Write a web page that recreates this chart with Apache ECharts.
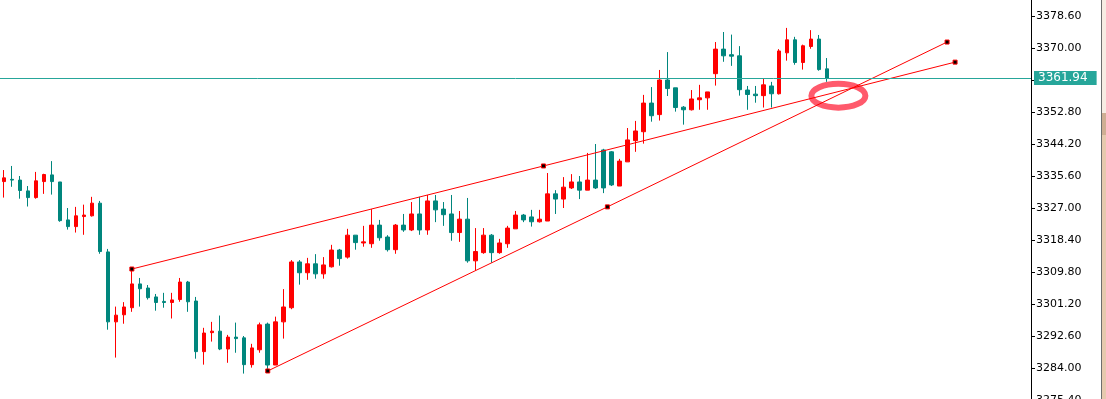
<!DOCTYPE html>
<html>
<head>
<meta charset="utf-8">
<script src="https://cdn.jsdelivr.net/npm/echarts@6/dist/echarts.min.js"></script>
<style>
  html, body { margin: 0; padding: 0; background: #fff; }
  #chart { width: 1106px; height: 399px; }
</style>
</head>
<body>
<div id="chart"></div>
<script>
// candles: [open, close, low, high]
const candles = [
  [3334.1, 3335.1, 3329.8, 3337.2], [3334.7, 3334.5, 3332.7, 3338.3], [3334.5, 3331.7, 3329.5, 3335.6],
  [3331.6, 3329.8, 3327.4, 3332.9], [3329.8, 3334.3, 3329.5, 3336.7], [3334.1, 3336.0, 3330.8, 3336.2],
  [3335.9, 3334.1, 3330.6, 3339.6], [3334.0, 3323.6, 3323.3, 3334.0], [3323.8, 3322.0, 3321.2, 3327.0],
  [3322.0, 3324.9, 3320.4, 3327.3], [3324.7, 3325.1, 3319.8, 3327.9], [3324.9, 3328.3, 3324.7, 3330.0],
  [3328.3, 3315.3, 3314.7, 3328.9], [3315.2, 3296.4, 3294.3, 3316.0], [3296.4, 3298.2, 3286.8, 3300.5],
  [3298.3, 3300.4, 3295.9, 3301.7], [3300.2, 3306.6, 3299.1, 3310.6], [3306.6, 3305.3, 3300.5, 3308.2],
  [3305.5, 3302.9, 3302.4, 3306.3], [3303.1, 3301.6, 3299.4, 3303.9], [3301.9, 3301.6, 3300.2, 3304.2],
  [3301.6, 3302.3, 3297.3, 3304.2], [3302.4, 3307.1, 3301.8, 3308.2], [3307.1, 3301.8, 3299.1, 3307.4],
  [3302.0, 3288.4, 3286.5, 3303.1], [3288.4, 3293.4, 3284.9, 3294.8], [3293.5, 3293.9, 3291.1, 3296.4],
  [3293.9, 3289.1, 3288.8, 3298.1], [3289.1, 3292.3, 3285.4, 3292.9], [3292.3, 3291.9, 3288.1, 3296.2],
  [3292.1, 3284.9, 3282.5, 3292.6], [3284.9, 3289.4, 3284.1, 3290.5], [3288.9, 3295.6, 3288.1, 3296.2],
  [3295.8, 3284.8, 3283.2, 3296.2], [3284.8, 3296.4, 3284.8, 3297.8], [3296.4, 3300.4, 3291.9, 3305.2],
  [3300.2, 3312.5, 3299.8, 3313.0], [3312.5, 3309.6, 3306.4, 3313.0], [3309.6, 3312.0, 3307.7, 3313.6],
  [3312.0, 3309.3, 3308.0, 3314.6], [3309.3, 3311.7, 3308.0, 3313.8], [3311.2, 3315.7, 3311.0, 3317.1],
  [3315.7, 3313.4, 3311.5, 3316.0], [3313.8, 3319.7, 3313.4, 3321.4], [3319.7, 3317.7, 3315.8, 3319.7],
  [3317.6, 3317.9, 3316.6, 3322.2], [3317.4, 3322.4, 3316.3, 3326.7], [3322.4, 3319.0, 3318.2, 3323.8],
  [3319.2, 3315.8, 3315.3, 3319.7], [3315.8, 3322.4, 3314.7, 3322.7], [3322.4, 3321.1, 3320.6, 3325.4],
  [3321.1, 3325.4, 3320.8, 3328.6], [3325.4, 3321.1, 3319.8, 3330.0], [3321.1, 3328.9, 3319.8, 3330.5],
  [3328.9, 3326.5, 3323.2, 3330.5], [3326.7, 3325.2, 3322.2, 3328.6], [3325.4, 3320.4, 3318.2, 3330.5],
  [3320.4, 3324.0, 3317.9, 3326.2], [3324.0, 3312.8, 3312.3, 3329.7], [3312.8, 3315.3, 3310.2, 3321.6],
  [3315.0, 3319.7, 3314.7, 3321.6], [3319.7, 3315.0, 3312.3, 3320.0], [3315.0, 3317.6, 3314.7, 3318.7],
  [3317.4, 3321.6, 3316.3, 3322.2], [3321.4, 3325.1, 3321.4, 3326.2], [3325.1, 3323.8, 3323.2, 3325.4],
  [3324.6, 3323.3, 3322.0, 3326.5], [3323.3, 3324.0, 3323.1, 3326.5], [3323.5, 3330.8, 3323.5, 3336.4],
  [3330.8, 3329.4, 3325.4, 3331.8], [3329.4, 3332.6, 3327.0, 3335.3], [3332.4, 3334.0, 3332.1, 3336.1],
  [3334.0, 3331.8, 3329.4, 3335.6], [3331.8, 3334.5, 3331.8, 3341.8], [3334.5, 3332.4, 3332.1, 3344.2],
  [3342.6, 3332.4, 3331.0, 3342.9], [3342.1, 3333.2, 3332.9, 3342.3], [3332.9, 3339.6, 3332.9, 3340.2],
  [3339.4, 3345.3, 3339.4, 3348.5], [3345.1, 3347.7, 3342.1, 3350.4], [3347.5, 3355.2, 3344.3, 3357.4],
  [3355.2, 3351.8, 3350.2, 3359.5], [3352.1, 3361.4, 3350.5, 3364.1], [3361.4, 3359.1, 3357.1, 3368.9],
  [3359.3, 3354.0, 3352.9, 3359.3], [3354.1, 3353.4, 3349.4, 3354.4], [3353.4, 3356.3, 3353.2, 3358.7],
  [3356.1, 3356.6, 3353.4, 3360.1], [3356.6, 3358.2, 3353.4, 3358.2], [3363.1, 3369.7, 3359.9, 3371.6],
  [3369.7, 3367.9, 3366.3, 3374.3], [3368.2, 3367.8, 3365.2, 3373.6], [3367.9, 3358.8, 3357.2, 3370.5],
  [3358.7, 3357.5, 3353.4, 3359.8], [3357.6, 3357.2, 3355.3, 3359.8], [3357.2, 3360.1, 3354.0, 3361.9],
  [3359.8, 3357.7, 3354.0, 3360.9], [3357.7, 3369.2, 3357.5, 3369.7], [3368.7, 3372.2, 3366.6, 3375.4],
  [3372.2, 3366.1, 3365.5, 3373.0], [3366.1, 3370.6, 3364.2, 3370.9], [3370.4, 3372.4, 3369.8, 3374.8],
  [3372.4, 3364.2, 3363.9, 3373.5], [3364.4, 3361.94, 3360.9, 3367.3]
]

const slotCount = 129 // bars that fit in the window (incl. empty right margin)
const categories = Array.from({ length: slotCount }, (_, i) => String(i))

// trend lines: [barIndex, price] (start, middle handle, end)
const upperTrend = [[16, 3310.6], [67.5, 3338.3], [119, 3366.2]]
const lowerTrend = [[33, 3283.2], [75.5, 3327.3], [118, 3371.6]]
const lastPrice = 3361.94
const highlight = [[104.4, 3357.2]]

const yMin = 3275.4
const yMax = 3382.9
const yStep = 8.6

const UP = '#ff0000'
const DOWN = '#00867d'
const PRICE = '#26a69a'

const chart = echarts.init(document.getElementById('chart'))

const trendSeries = (data) => ({
  type: 'line',
  xAxisIndex: 1,
  data: data,
  symbol: 'rect',
  symbolSize: 4,
  showAllSymbol: true,
  itemStyle: { color: '#000', borderColor: UP, borderWidth: 1 },
  lineStyle: { color: UP, width: 1 },
  emphasis: { disabled: true },
  silent: true,
  z: 4,
  animation: false
})

chart.setOption({
  animation: false,
  backgroundColor: '#fff',
  grid: { left: 0, right: 75, top: 0, height: 400, outerBoundsMode: 'none', containLabel: false },
  xAxis: [
    {
      type: 'category',
      data: categories,
      show: false,
      boundaryGap: true
    },
    {
      type: 'value',
      min: -0.5,
      max: slotCount - 0.5,
      show: false
    }
  ],
  yAxis: {
    type: 'value',
    position: 'right',
    min: yMin,
    max: yMax,
    interval: yStep,
    splitLine: { show: false },
    axisLine: { show: true, onZero: false, lineStyle: { color: '#000', width: 1 } },
    axisTick: { show: true, length: 4, lineStyle: { color: '#000' } },
    axisLabel: {
      showMaxLabel: false,
      margin: 5,
      color: '#000',
      fontFamily: 'DejaVu Sans',
      fontSize: 11,
      formatter: (v) => v.toFixed(2)
    }
  },
  series: [
    {
      type: 'custom',
      xAxisIndex: 1,
      data: highlight,
      silent: true,
      z: 3,
      renderItem: (params, api) => {
        const p = api.coord([api.value(0), api.value(1)])
        return {
          type: 'ellipse',
          shape: { cx: p[0], cy: p[1], rx: 27, ry: 12 },
          style: { fill: 'none', stroke: '#ff5a6c', lineWidth: 6 }
        }
      }
    },
    {
      type: 'candlestick',
      data: candles,
      barWidth: 4,
      z: 2,
      itemStyle: {
        color: UP,
        color0: DOWN,
        borderColor: UP,
        borderColor0: DOWN,
        borderWidth: 1
      },
      markLine: {
        silent: true,
        symbol: 'none',
        animation: false,
        lineStyle: { color: PRICE, width: 1, type: 'solid' },
        label: {
          position: 'end',
          distance: 3,
          formatter: lastPrice.toFixed(2),
          color: '#fff',
          backgroundColor: PRICE,
          fontFamily: 'DejaVu Sans',
          fontSize: 12,
          lineHeight: 13,
          padding: [1, 9, 0, 4]
        },
        data: [{ yAxis: lastPrice }]
      }
    },
    trendSeries(upperTrend),
    trendSeries(lowerTrend)
  ],
  graphic: [
    { type: 'rect', shape: { x: 1101, y: 0, width: 1, height: 399 }, style: { fill: '#6e6e6e' } },
    { type: 'rect', shape: { x: 1102, y: 0, width: 4, height: 113 }, style: { fill: '#f7ece3' } },
    { type: 'rect', shape: { x: 1102, y: 113, width: 4, height: 286 }, style: { fill: '#e6c9ae' } },
    { type: 'rect', shape: { x: 1102, y: 113, width: 4, height: 22 }, style: { fill: '#cfae93' } }
  ]
})
</script>
</body>
</html>
